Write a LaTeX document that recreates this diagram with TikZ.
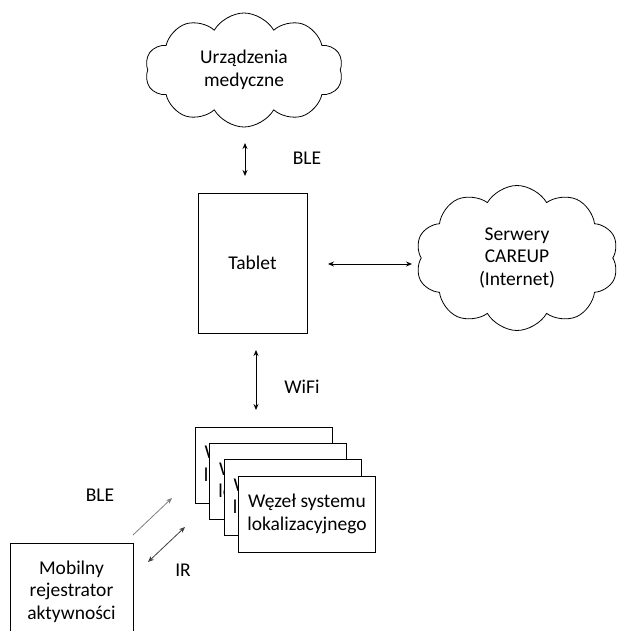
\documentclass[tikz,border=0pt]{standalone}
\usepackage{fontspec}
\setmainfont{Carlito}
\usetikzlibrary{shapes.symbols,arrows.meta}
\begin{document}
\begin{tikzpicture}[x=1pt,y=-1pt,
  every node/.style={font=\fontsize{19.5}{22.5}\selectfont},
  box/.style={draw, fill=white, line width=0.8pt, align=center, inner sep=0pt},
  cloudy/.style={cloud, draw, cloud puffs=10, cloud puff arc=120, aspect=1.7, align=center, inner sep=0pt, line width=0.8pt},
  darr/.style={{Stealth[length=6pt,width=5pt]}-{Stealth[length=6pt,width=5pt]}, line width=0.8pt},
  sarr/.style={-{Stealth[length=6pt,width=5pt]}, line width=0.8pt}]
\useasboundingbox (0,0) rectangle (620,631);
\clip (0,0) rectangle (620,631);
\fill[white] (0,0) rectangle (620,631);

\node[cloudy, minimum width=198pt, minimum height=114pt] (med) at (244,70) {Urządzenia\\medyczne};
\node[cloudy, minimum width=203pt, minimum height=145pt] (srv) at (517,258) {Serwery\\CAREUP\\(Internet)};
\node[box, minimum width=109pt, minimum height=140pt] (tab) at (252.5,263) {Tablet};

\node[box, minimum width=137pt, minimum height=76pt] (n1) at (263.5,465) {Węzeł systemu\\lokalizacyjnego};
\node[box, minimum width=137pt, minimum height=76pt] (n2) at (278,481.3) {Węzeł systemu\\lokalizacyjnego};
\node[box, minimum width=137pt, minimum height=76pt] (n3) at (292.5,497.6) {Węzeł systemu\\lokalizacyjnego};
\node[box, minimum width=137pt, minimum height=76pt] (n4) at (307,514) {Węzeł systemu\\lokalizacyjnego};

\node[box, minimum width=123pt, minimum height=97pt] (mob) at (71.5,591.5) {Mobilny\\rejestrator\\aktywności};

\coordinate (a1) at (245,143); \coordinate (a2) at (245,176);
\coordinate (b1) at (328,264); \coordinate (b2) at (412,264);
\coordinate (c1) at (256,350); \coordinate (c2) at (256,410);
\coordinate (d1) at (133,535); \coordinate (d2) at (172,498);
\coordinate (e1) at (148,562); \coordinate (e2) at (185,527);

\draw[darr] (a1) -- (a2);
\draw[darr] (b1) -- (b2);
\draw[darr] (c1) -- (c2);
\draw[sarr, draw=gray, -{Stealth[length=6pt,width=5pt,fill=black!60]}] (d1) -- (d2);
\draw[darr, draw=black!75] (e1) -- (e2);

\node (l1) at (307,158) {BLE};
\node (l2) at (302,387) {WiFi};
\node (l3) at (100,495) {BLE};
\node (l4) at (183,570) {IR};
\end{tikzpicture}
\end{document}
